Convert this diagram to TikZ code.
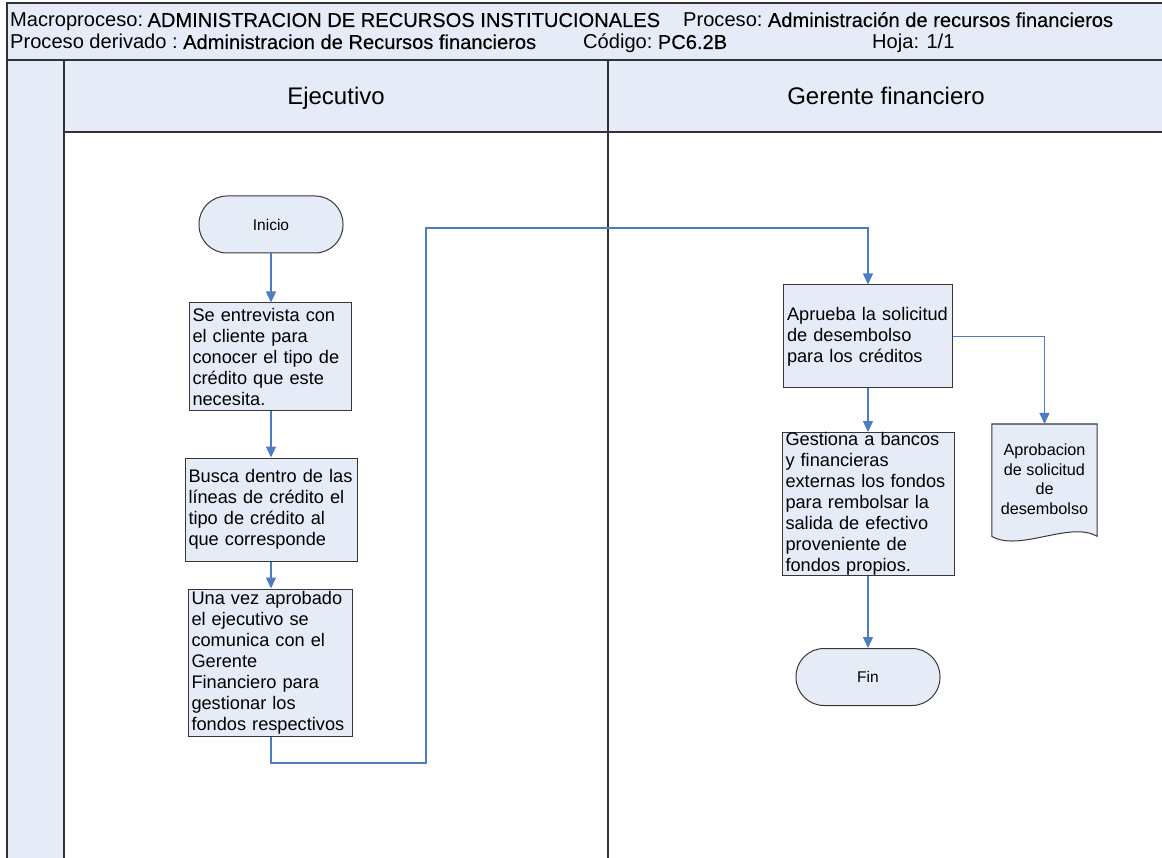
\documentclass[tikz,border=0pt]{standalone}
\usepackage{fontspec}
\setmainfont{Liberation Sans}
\newfontfamily\valfont{Liberation Sans}[FakeBold=0.3]
\usetikzlibrary{arrows.meta}
\definecolor{paleblue}{RGB}{230,236,247}
\definecolor{framegray}{RGB}{50,50,50}
\definecolor{boxline}{RGB}{55,55,55}
\definecolor{flowblue}{RGB}{78,124,196}
\begin{document}
\begin{tikzpicture}[x=1pt,y=-1pt,
  frame/.style={draw=framegray,line width=1.6pt},
  hdr/.style={inner sep=0pt,anchor=base west,font=\fontsize{20.1}{24}\selectfont},
  hval/.style={hdr,font=\fontsize{20.1}{24}\selectfont\valfont},
  lanetitle/.style={inner sep=0pt,anchor=base,font=\fontsize{24}{28}\selectfont},
  proc/.style={draw=boxline,fill=paleblue,line width=1pt,align=left,
    inner xsep=3.5pt,inner ysep=0pt,font=\fontsize{18.2}{21}\selectfont},
  term/.style={draw=boxline,fill=paleblue,line width=1pt,rounded corners=28pt,
    minimum width=144,minimum height=57,font=\fontsize{15.5}{18}\selectfont},
  docframe/.style={inner sep=0pt,minimum width=105,minimum height=112},
  doctext/.style={inner sep=0pt,align=center,font=\fontsize{16.2}{19.5}\selectfont},
  flow/.style={draw=flowblue,line width=1.3pt,-{Triangle[length=11pt,width=10pt]}}]
\useasboundingbox (0,0) rectangle (1162,858);

% header band, swimlane heads and the left margin column
\fill[paleblue] (7,3) rectangle (1175,60);
\fill[paleblue] (7,60) rectangle (64,875);
\fill[paleblue] (64,60) rectangle (1175,132);
\draw[frame] (1175,3) -- (7,3) -- (7,875);
\draw[frame] (7,60) -- (1175,60);
\draw[frame] (64,60) -- (64,875);
\draw[frame] (608,60) -- (608,875);
\draw[draw=framegray,line width=1.2pt] (64,132) -- (1175,132);

% header texts: each value follows its label after one word space
\node[hdr] (macrolab) at (10,27) {Macroproceso:};
\node[hval] (macroval) at ([xshift=4pt]macrolab.base east) {ADMINISTRACION DE RECURSOS INSTITUCIONALES};
\node[hdr] (proclab) at (683,27) {Proceso:};
\node[hval] (procval) at ([xshift=5pt]proclab.base east) {Administración de recursos financieros};
\node[hdr] (derlab) at (10,49) {Proceso derivado :};
\node[hval] (derval) at ([xshift=5pt]derlab.base east) {Administracion de Recursos financieros};
\node[hdr] (codlab) at (583,49) {Código:};
\node[hval] (codval) at ([xshift=5pt]codlab.base east) {PC6.2B};
\node[hdr] (hoja) at (872,49) {Hoja: 1/1};

% lane titles
\node[lanetitle] (laneA) at (336,105) {Ejecutivo};
\node[lanetitle] (laneB) at (886,105) {Gerente financiero};

% Ejecutivo lane
\node[term] (inicio) at (271,224.5) {Inicio};
\node[proc,text width=155,minimum height=108] (entrevista) at (270,357)
  {Se entrevista con\\el cliente para\\conocer el tipo de\\crédito que este\\necesita.};
\node[proc,text width=165,minimum height=103] (busca) at (271,509.5)
  {Busca dentro de las\\líneas de crédito el\\tipo de crédito al\\que corresponde};
\node[proc,text width=157,minimum height=147] (comunica) at (270,662.5)
  {Una vez aprobado\\el ejecutivo se\\comunica con el\\Gerente\\Financiero para\\gestionar los\\fondos respectivos};

% Gerente financiero lane
\node[proc,text width=162,minimum height=103] (aprueba) at (868,336.5)
  {Aprueba la solicitud\\de desembolso\\para los créditos};
\node[proc,text width=165,minimum height=140] (gestiona) at (868,504)
  {Gestiona a bancos\\y financieras\\externas los fondos\\para rembolsar la\\salida de efectivo\\proveniente de\\fondos propios.};
\node[term] (fin) at (868,677) {Fin};

% document symbol with wavy lower edge
\node[docframe,anchor=north] (docu) at (1044.5,424) {};
\path[draw=boxline,fill=paleblue,line width=1pt]
  (docu.south west) -- (docu.north west) -- (docu.north east) -- (docu.south east)
  .. controls +(-27,-16) and +(28,16) .. (docu.south west) -- cycle;
\node[doctext] (docutext) at ([yshift=1pt]docu.center) {Aprobacion\\de solicitud\\de\\desembolso};

% connectors
\coordinate (jogA) at (426,763);
\coordinate (jogB) at (426,228);
\draw[flow] (inicio.south) -- (inicio.south |- entrevista.north);
\draw[flow] (entrevista.south -| inicio.south) -- (inicio.south |- busca.north);
\draw[flow] (busca.south -| inicio.south) -- (inicio.south |- comunica.north);
\draw[flow] (comunica.south -| inicio.south) |- (jogA) -- (jogB) -| (aprueba.north -| fin.north);
\draw[flow] (aprueba.east) -| (docu.north);
\draw[flow] (aprueba.south -| fin.north) -- (fin.north |- gestiona.north);
\draw[flow] (gestiona.south -| fin.north) -- (fin.north);
\end{tikzpicture}
\end{document}
